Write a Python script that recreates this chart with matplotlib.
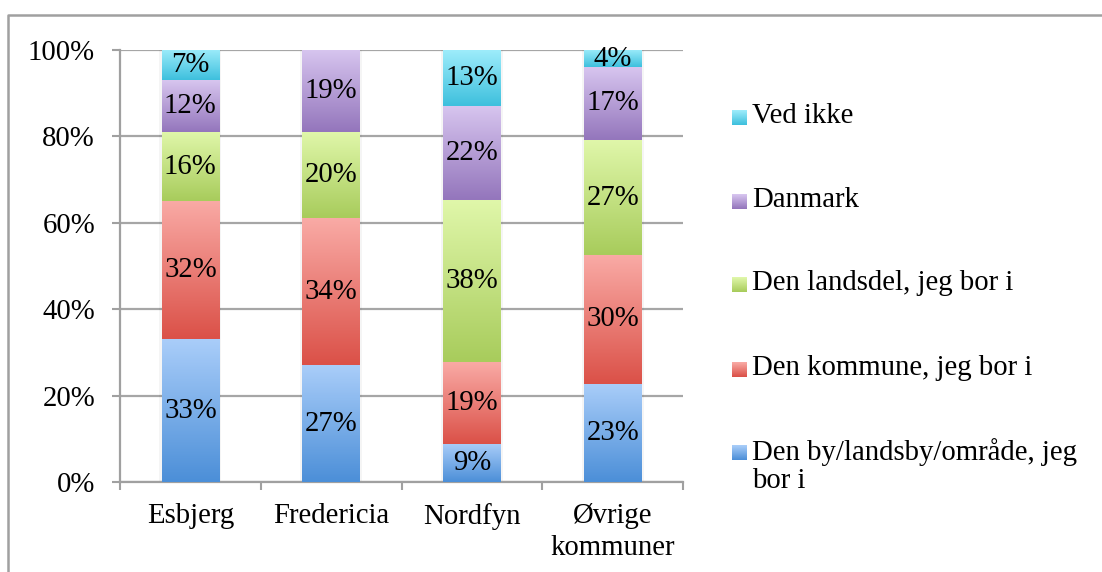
import matplotlib
matplotlib.use("Agg")
import matplotlib.pyplot as plt
import numpy as np
from matplotlib.colors import LinearSegmentedColormap

# Data (procent, som vist i diagrammet)
kommuner = ["Esbjerg", "Fredericia", "Nordfyn", "Øvrige\nkommuner"]
serier = ["Den by/landsby/område, jeg\nbor i", "Den kommune, jeg bor i",
          "Den landsdel, jeg bor i", "Danmark", "Ved ikke"]
by_omraade = [33, 27, 9, 23]
kommune = [32, 34, 19, 30]
landsdel = [16, 20, 38, 27]
danmark = [12, 19, 22, 17]
ved_ikke = [7, 0, 13, 4]
yticks = [0, 20, 40, 60, 80, 100]

# gradient farver (lys top, mørk bund)
farver = [("#a9cdf9", "#4c8fd8"),
          ("#f9aaa5", "#db5148"),
          ("#e0f7aa", "#a8cc5c"),
          ("#d7c5ef", "#9476bc"),
          ("#9decfb", "#3ec0dd")]

plt.rcParams['font.family'] = ['Liberation Serif', 'DejaVu Serif']
fs = 20.7

fig = plt.figure(figsize=(11.02, 5.72), dpi=100)
ax = fig.add_axes([120/1102, 1-482/572, 563/1102, 432/572])

data = np.array([by_omraade, kommune, landsdel, danmark, ved_ikke], dtype=float)
andel = data / data.sum(axis=0) * 100
x = np.arange(len(kommuner))
w = 0.41

bund = np.zeros(len(kommuner))
for i in range(len(serier)):
    cmap = LinearSegmentedColormap.from_list("g%d" % i, [farver[i][1], farver[i][0]])
    for j in range(len(kommuner)):
        h = andel[i, j]
        if data[i, j] == 0:
            continue
        y0 = bund[j]
        # skygge
        ax.bar(x[j], h, w + 0.03, bottom=y0, color="#000000", alpha=0.04, zorder=2, linewidth=0)
        grad = np.linspace(0, 1, 100).reshape(-1, 1)
        ax.imshow(grad, cmap=cmap, origin="lower", aspect="auto",
                  extent=[x[j] - w/2, x[j] + w/2, y0, y0 + h], zorder=3)
        ax.text(x[j], y0 + h/2, "%d%%" % data[i, j], ha="center", va="center",
                fontsize=fs, zorder=4)
    bund += andel[i]

ax.set_xlim(-0.5, len(kommuner) - 0.5)
ax.set_ylim(0, 100)
ax.set_yticks(yticks)
ax.set_yticklabels(["%d%%" % v for v in yticks], fontsize=fs)
ax.set_xticks(x)
ax.set_xticklabels(kommuner, fontsize=fs, linespacing=1.3)
ax.set_xticks(np.arange(len(kommuner) + 1) - 0.5, minor=True)
ax.tick_params(axis="x", which="major", length=0, pad=15)
ax.tick_params(axis="x", which="minor", length=6, width=1.5, color="#a0a0a0")
ax.tick_params(axis="y", length=6, width=1.5, color="#a0a0a0", pad=12)
ax.yaxis.grid(True, color="#a6a6a6", linewidth=1.6, zorder=0)
ax.set_axisbelow(True)
for s in ["top", "right"]:
    ax.spines[s].set_visible(False)
for s in ["left", "bottom"]:
    ax.spines[s].set_color("#a0a0a0")
    ax.spines[s].set_linewidth(1.6)

# overlay til ramme og forklaring (pixel-koordinater)
ov = fig.add_axes([0, 0, 1, 1])
ov.set_xlim(0, 1102)
ov.set_ylim(572, 0)
ov.axis("off")
ov.plot([8, 8, 1102], [572, 15, 15], color="#a0a0a0", linewidth=1.8)

ly = [453, 370, 285, 202, 118]
for i in range(len(serier)):
    cmap = LinearSegmentedColormap.from_list("l%d" % i, [farver[i][1], farver[i][0]])
    grad = np.linspace(0, 1, 20).reshape(-1, 1)
    ov.imshow(grad, cmap=cmap, origin="lower", aspect="auto",
              extent=[732, 747, ly[i] + 7, ly[i] - 8])
    ov.text(752, ly[i] - 15, serier[i], fontsize=fs, va="top", ha="left",
            linespacing=1.1)
ov.set_xlim(0, 1102)
ov.set_ylim(572, 0)

fig.savefig("out.png", dpi=100)
